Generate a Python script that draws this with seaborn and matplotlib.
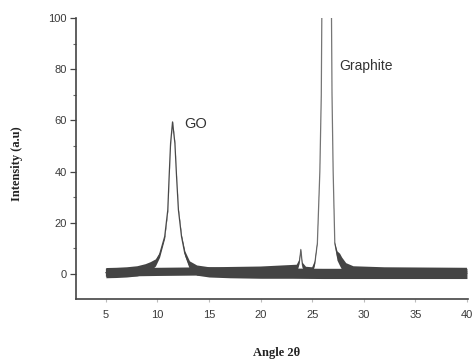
import numpy as np
import pandas as pd
import matplotlib
matplotlib.use("Agg")
import matplotlib.pyplot as plt
import seaborn as sns
from matplotlib.ticker import MultipleLocator

# ---- data ----
go_angle = [5, 6, 7, 8, 8.8, 9.3, 9.8, 10.2, 10.7, 11.0, 11.13, 11.27, 11.46,
            11.69, 11.85, 12.03, 12.33, 12.65, 13.1, 13.8, 15, 17, 20, 23, 26,
            30, 35, 40]
go_int = [0.5, 0.6, 0.8, 1.2, 2.0, 3.0, 4.5, 7.5, 14.6, 25, 38, 51, 59.4,
          51, 38, 25, 14.6, 8, 3.5, 1.5, 0.8, 0.5, 0.3, 0.3, 0.2, 0.2, 0.2, 0.2]
go_noise = [2.0, 2.0, 2.0, 2.0, 2.0, 1.8, 1.4, 1.0, 0.6, 0.4, 0.3, 0.3, 0.3,
            0.3, 0.3, 0.4, 0.6, 1.0, 1.6, 2.0, 2.0, 2.0, 2.0, 2.0, 2.0, 2.0,
            2.0, 2.0]

gr_angle = [5, 10, 15, 20, 22, 23.5, 23.75, 23.9, 24.05, 24.4, 25.0, 25.25,
            25.5, 25.74, 25.88, 25.93, 26.4, 26.87, 26.92, 27.03, 27.19, 27.45,
            27.7, 27.9, 28.3, 29, 32, 36, 40]
gr_int = [0.5, 0.8, 1.0, 1.3, 1.5, 1.8, 4.5, 9.5, 3.5, 1.2, 1.0, 4, 12, 40,
          70, 100, 250, 100, 70, 40, 12, 7, 5.5, 4, 2.0, 1.2, 1.0, 0.9, 0.8]
gr_noise = [1.6, 1.6, 1.6, 1.6, 1.8, 1.8, 1.0, 0.5, 1.0, 1.6, 1.6, 1.0, 0.5,
            0.3, 0.3, 0.3, 0.3, 0.3, 0.3, 0.3, 0.6, 1.8, 2.4, 2.4, 2.2, 1.8,
            1.6, 1.6, 1.6]

y_ticks = [0, 20, 40, 60, 80, 100]
x_ticks = [5, 10, 15, 20, 25, 30, 35, 40]

go_df = pd.DataFrame({"angle": go_angle, "intensity": go_int})
gr_df = pd.DataFrame({"angle": gr_angle, "intensity": gr_int})

sns.set_theme(style="white")
plt.rcParams['font.family'] = ['Liberation Sans', 'DejaVu Sans']

fig = plt.figure(figsize=(4.74, 3.59), dpi=100)
ax = fig.add_axes([0.1603, 0.1671, 0.827, 0.7827])

band_col = "#444444"

# noise bands (drawn above the thin lines so the baseline looks like one band)
ga = np.array(go_angle); gi = np.array(go_int); gn = np.array(go_noise)
ra = np.array(gr_angle); ri = np.array(gr_int); rn = np.array(gr_noise)
ax.fill_between(ga, gi - gn, gi + gn, color=band_col, lw=0, zorder=3)
ax.fill_between(ra, ri - rn, ri + rn, color=band_col, lw=0, zorder=3)

sns.lineplot(data=go_df, x="angle", y="intensity", ax=ax, color="#4a4a4a",
             lw=0.9, sort=False, estimator=None)
sns.lineplot(data=gr_df, x="angle", y="intensity", ax=ax, color="#777777",
             lw=0.9, sort=False, estimator=None)

ax.set_xlim(2.1, 40.1)
ax.set_ylim(-9.8, 100)
ax.set_xticks(x_ticks)
ax.set_yticks(y_ticks)
ax.yaxis.set_minor_locator(MultipleLocator(10))

for s in ["top", "right"]:
    ax.spines[s].set_visible(False)
for s in ["left", "bottom"]:
    ax.spines[s].set_color("#444444")
    ax.spines[s].set_linewidth(1.2)

ax.tick_params(axis="y", which="major", direction="out", length=4.5, width=0.9,
               color="#444444", labelsize=8, labelcolor="#3a3a3a", pad=2, left=True)
ax.tick_params(axis="y", which="minor", direction="out", length=2.5, width=0.8,
               color="#666666", left=True)
ax.tick_params(axis="x", which="major", direction="out", length=2, width=0.8,
               color="#bbbbbb", labelsize=8, labelcolor="#3a3a3a", pad=6, bottom=True)

ax.set_xlabel("")
ax.set_ylabel("")
fig.text(17/474, 1 - 164/359, "Intensity (a.u)", rotation=90, ha="center",
         va="center", fontsize=9, fontweight="bold", family="Liberation Serif",
         color="#222222")
fig.text(277/474, 1 - 353/359, "Angle 2θ", ha="center", va="center",
         fontsize=9, fontweight="bold", family="Liberation Serif", color="#222222")

ax.text(13.72, 58.6, "GO", ha="center", va="center", fontsize=10.5, color="#333333")
ax.text(30.2, 81.2, "Graphite", ha="center", va="center", fontsize=10, color="#333333")

fig.savefig("out.png", dpi=100, facecolor="white")
